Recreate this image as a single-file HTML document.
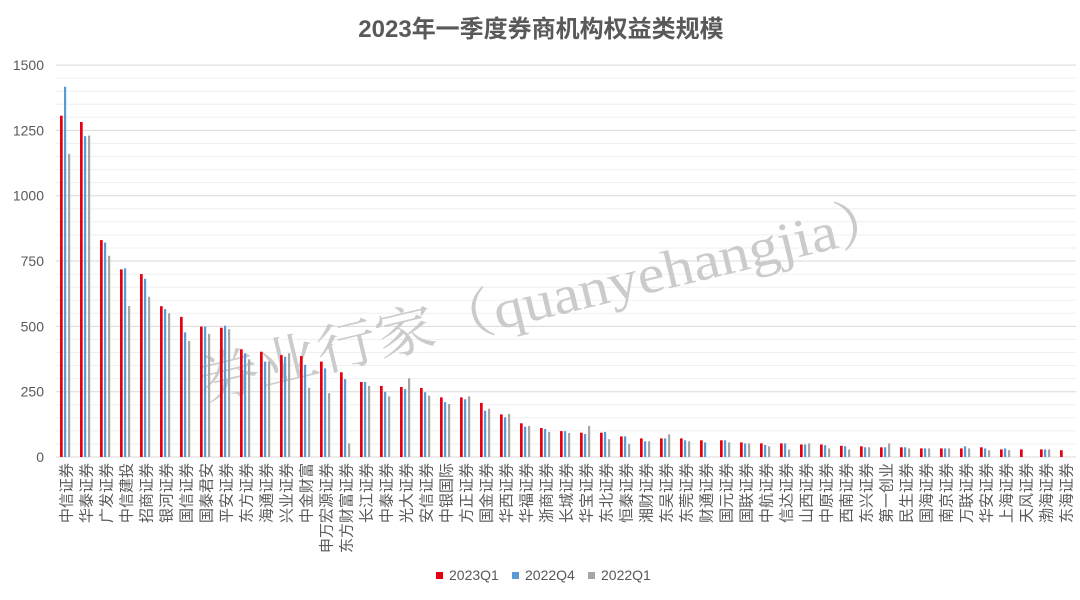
<!DOCTYPE html>
<html>
<head>
<meta charset="utf-8">
<style>
html,body{margin:0;padding:0;background:#fff;}
svg{display:block;}
text{font-family:"Liberation Sans","Noto Sans CJK SC",sans-serif;}
text.wm{font-family:"Liberation Serif","Noto Serif CJK SC",serif;}
</style>
</head>
<body>
<svg id="c" width="1080" height="600" viewBox="0 0 1080 600" xmlns="http://www.w3.org/2000/svg">
<rect width="1080" height="600" fill="#fff"/>
<g id="grid"></g>
<g id="ylab" font-size="14" fill="#595959" text-anchor="end"></g>
<text class="wm" x="204" y="400" transform="rotate(-13.5 204 400)" font-size="54" fill="#cbcbcb" textLength="715" lengthAdjust="spacingAndGlyphs">券业行家（quanyehangjia）</text>
<g id="bars"></g>
<g id="xlab" font-size="15" fill="#595959" text-anchor="end"></g>
<text x="541" y="37" font-size="24" font-weight="bold" fill="#595959" text-anchor="middle">2023年一季度券商机构权益类规模</text>
<g font-size="14" fill="#595959">
<rect x="436" y="572" width="7" height="7" fill="#e60012"/>
<text x="449" y="580">2023Q1</text>
<rect x="512" y="572" width="7" height="7" fill="#5b9bd5"/>
<text x="525" y="580">2022Q4</text>
<rect x="588" y="572" width="7" height="7" fill="#a5a5a5"/>
<text x="601" y="580">2022Q1</text>
</g>
</svg>
<script>
(function(){
var NS="http://www.w3.org/2000/svg";
function el(tag,attrs,parent,txt){var e=document.createElementNS(NS,tag);for(var k in attrs)e.setAttribute(k,attrs[k]);if(txt!==undefined)e.textContent=txt;parent.appendChild(e);return e;}
var y0=457, k=0.2613, xl=56, xr=1076;
function Y(v){return y0-v*k;}
var grid=document.getElementById('grid');
for(var v=50;v<=1500;v+=50){
  var major=(v%250===0);
  el('line',{x1:xl,x2:xr,y1:Y(v).toFixed(1),y2:Y(v).toFixed(1),stroke:major?'#d9d9d9':'#efefef','stroke-width':1},grid);
}
el('line',{x1:xl,x2:xr,y1:y0,y2:y0,stroke:'#d9d9d9','stroke-width':1},grid);
var yl=document.getElementById('ylab');
for(var v=0;v<=1500;v+=250){el('text',{x:44,y:(Y(v)+5).toFixed(1)},yl,String(v));}
var names=["中信证券","华泰证券","广发证券","中信建投","招商证券","银河证券","国信证券","国泰君安","平安证券","东方证券","海通证券","兴业证券","中金财富","申万宏源证券","东方财富证券","长江证券","中泰证券","光大证券","安信证券","中银国际","方正证券","国金证券","华西证券","华福证券","浙商证券","长城证券","华宝证券","东北证券","恒泰证券","湘财证券","东吴证券","东莞证券","财通证券","国元证券","国联证券","中航证券","信达证券","山西证券","中原证券","西南证券","东兴证券","第一创业","民生证券","国海证券","南京证券","万联证券","华安证券","上海证券","天风证券","渤海证券","东海证券"];
var red=[1306,1282,830,718,700,577,536,499,495,412,403,390,386,365,324,287,272,268,264,228,228,207,163,129,111,99,93,93,79,71,71,71,64,64,56,52,52,48,48,43,41,37,37,33,33,33,37,29,29,29,26];
var blue=[1417,1228,821,722,682,566,477,499,503,397,365,384,353,339,298,287,250,260,248,210,221,177,152,116,107,99,88,96,79,60,71,64,56,64,52,46,52,48,45,41,37,37,37,33,33,41,33,33,0,29,0];
var gray=[1160,1230,770,578,613,550,444,471,489,374,365,397,265,244,52,272,232,301,235,203,232,185,165,119,96,92,119,68,50,60,87,60,0,56,52,41,29,52,33,29,37,52,33,33,33,33,26,26,0,29,0];
var bars=document.getElementById('bars'), xlab=document.getElementById('xlab');
for(var i=0;i<names.length;i++){
  var c=66+20*i;
  var s=[[red[i],c-6,2.7,'#e60012'],[blue[i],c-2,2.2,'#5b9bd5'],[gray[i],c+2,2.2,'#a5a5a5']];
  for(var j=0;j<3;j++){
    var val=s[j][0]; if(!val)continue;
    var h=val*k;
    el('rect',{x:s[j][1],y:(y0-h).toFixed(1),width:s[j][2],height:h.toFixed(1),fill:s[j][3]},bars);
  }
  el('text',{transform:'translate('+(c+5.7)+',463) rotate(-90)'},xlab,names[i]);
}
})();
</script>
</body>
</html>
